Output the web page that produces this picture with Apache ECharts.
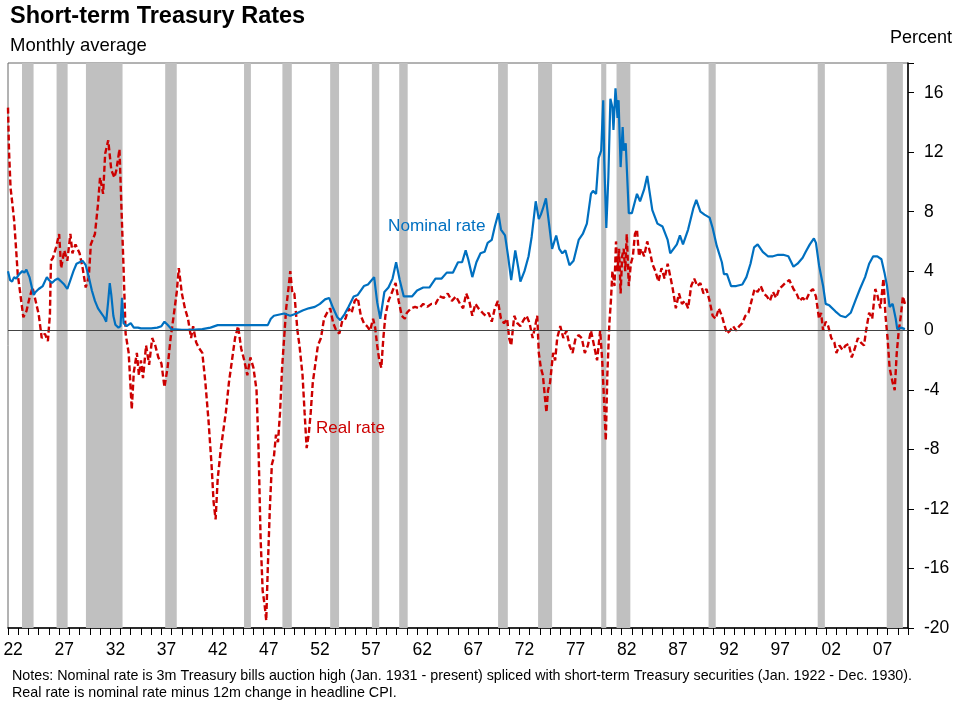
<!DOCTYPE html>
<html>
<head>
<meta charset="utf-8">
<script src="https://cdn.jsdelivr.net/npm/echarts@6/dist/echarts.min.js"></script>
<style>
html, body { margin: 0; padding: 0; background: #fff; }
#mainChart { width: 958px; height: 702px; }
</style>
</head>
<body>
<div id="mainChart"></div>
<script>
// year labels on the bottom axis (one category per year)
var yearCats = [];
for (var y = 1922; y <= 2009; y++) {
    yearCats.push(String(y).slice(2));
}
var yTicks = [-20, -16, -12, -8, -4, 0, 4, 8, 12, 16];

// recessions (start, end) in decimal years
var recStart = [1923.37, 1926.75, 1929.62, 1937.37, 1945.08, 1948.83, 1953.5, 1957.58, 1960.25, 1969.92, 1973.83, 1980.0, 1981.5, 1990.5, 2001.17, 2007.92];
var recEnd   = [1924.5, 1927.83, 1933.2, 1938.5, 1945.75, 1949.75, 1954.37, 1958.3, 1961.08, 1970.87, 1975.2, 1980.5, 1982.85, 1991.2, 2001.87, 2009.5];

// nominal rate
var nomDates = [1922.0,1922.2,1922.4,1922.6,1922.8,1923.1,1923.4,1923.6,1923.8,1924.1,1924.3,1924.5,1924.7,1925.0,1925.4,1925.8,1926.0,1926.3,1926.6,1926.9,
    1927.2,1927.5,1927.8,1928.1,1928.4,1928.7,1929.0,1929.3,1929.6,1929.9,1930.2,1930.5,1930.8,1931.1,1931.4,1931.6,1931.8,1931.95,1932.1,1932.3,
    1932.5,1932.8,1933.0,1933.15,1933.3,1933.6,1934.0,1934.3,1934.7,1935.0,1936.0,1936.6,1937.0,1937.3,1937.6,1938.0,1939.0,1940.0,1941.0,1941.8,
    1942.5,1947.4,1947.7,1948.0,1949.0,1949.6,1950.2,1950.8,1951.4,1952.0,1952.5,1953.0,1953.4,1953.8,1954.2,1954.5,1954.9,1955.3,1955.8,1956.2,
    1956.8,1957.2,1957.8,1958.1,1958.4,1958.8,1959.2,1959.6,1959.95,1960.3,1960.7,1961.0,1961.5,1962.0,1962.6,1963.2,1963.8,1964.4,1964.9,1965.5,
    1966.0,1966.4,1966.75,1967.0,1967.4,1967.8,1968.2,1968.6,1968.9,1969.3,1969.6,1969.95,1970.2,1970.6,1970.9,1971.2,1971.6,1971.9,1972.1,1972.5,
    1972.9,1973.2,1973.6,1973.9,1974.1,1974.3,1974.6,1974.9,1975.2,1975.6,1975.9,1976.2,1976.5,1976.9,1977.3,1977.8,1978.2,1978.6,1979.0,1979.2,
    1979.5,1979.75,1980.0,1980.2,1980.3,1980.5,1980.7,1980.9,1981.1,1981.2,1981.4,1981.6,1981.7,1981.9,1982.1,1982.2,1982.4,1982.7,1983.0,1983.5,
    1983.8,1984.2,1984.5,1985.0,1985.5,1986.0,1986.5,1986.75,1987.4,1987.7,1988.0,1988.5,1989.0,1989.3,1989.7,1990.1,1990.6,1990.9,1991.3,1991.8,
    1992.0,1992.3,1992.7,1993.2,1993.8,1994.2,1994.6,1994.95,1995.3,1995.8,1996.3,1996.8,1997.3,1997.8,1998.3,1998.8,1999.2,1999.7,2000.0,2000.4,
    2000.8,2001.0,2001.3,2001.7,2001.95,2002.3,2002.9,2003.4,2003.9,2004.4,2004.9,2005.3,2005.8,2006.2,2006.6,2007.0,2007.4,2007.7,2007.95,2008.2,
    2008.5,2008.8,2008.95,2009.3,2009.7];
var nomRates = [4.0,3.4,3.3,3.6,3.5,3.8,4.0,3.9,4.1,3.6,3.0,2.4,2.6,2.8,3.0,3.6,3.4,3.2,3.4,3.5,
    3.3,3.1,2.8,3.4,4.0,4.5,4.6,4.7,4.4,3.6,2.7,2.0,1.5,1.2,0.9,0.6,2.0,3.2,2.4,1.0,
    0.4,0.2,0.3,2.2,0.5,0.3,0.5,0.2,0.2,0.15,0.15,0.2,0.3,0.6,0.4,0.1,0.05,0.05,0.1,0.2,
    0.37,0.37,0.8,1.0,1.15,1.0,1.15,1.35,1.5,1.6,1.8,2.1,2.2,1.5,0.9,0.7,1.1,1.6,2.3,2.4,
    3.0,3.1,3.6,1.9,0.8,2.6,2.9,3.5,4.6,3.4,2.3,2.3,2.3,2.7,2.9,2.9,3.5,3.5,3.9,3.9,
    4.6,4.6,5.4,4.8,3.6,4.6,5.2,5.3,5.9,6.1,7.0,7.9,6.8,6.4,5.0,3.4,5.4,4.2,3.3,4.0,
    5.0,6.3,8.7,7.5,7.8,8.2,8.9,7.2,5.5,6.4,5.5,5.2,5.4,4.4,4.7,6.1,6.5,7.2,9.2,9.4,
    9.2,11.6,12.1,15.5,11.4,6.9,10.3,15.6,15.0,13.5,16.3,14.3,15.5,11.0,13.7,12.1,12.6,7.9,7.9,9.2,
    8.7,9.5,10.4,8.1,7.2,7.0,6.1,5.2,5.8,6.4,5.8,6.8,8.2,8.8,8.0,7.8,7.6,6.9,5.7,4.6,
    3.8,3.8,3.0,3.0,3.1,3.6,4.5,5.6,5.8,5.3,5.0,5.0,5.1,5.1,5.0,4.3,4.5,4.9,5.3,5.8,
    6.2,5.9,4.4,3.0,1.8,1.7,1.3,1.0,0.9,1.2,2.1,2.8,3.6,4.5,5.0,5.0,4.8,3.9,3.0,1.6,
    1.8,0.8,0.1,0.2,0.1];

// real rate
var realDates = [1922.0,1922.1,1922.25,1922.4,1922.6,1922.8,1922.95,1923.2,1923.5,1923.8,1924.1,1924.4,1924.7,1925.0,1925.3,1925.6,1925.9,1926.1,1926.2,1926.4,
    1926.7,1927.0,1927.2,1927.5,1927.8,1928.1,1928.3,1928.6,1929.0,1929.3,1929.6,1929.9,1930.1,1930.5,1930.8,1931.0,1931.3,1931.5,1931.8,1932.1,
    1932.4,1932.6,1932.9,1933.1,1933.3,1933.5,1933.8,1934.0,1934.1,1934.3,1934.6,1934.8,1935.0,1935.2,1935.5,1935.8,1936.1,1936.4,1936.7,1937.0,
    1937.3,1937.6,1937.9,1938.2,1938.5,1938.7,1939.0,1939.3,1939.6,1939.9,1940.1,1940.4,1940.7,1941.0,1941.3,1941.6,1941.9,1942.1,1942.3,1942.5,
    1942.8,1943.0,1943.3,1943.6,1943.9,1944.2,1944.5,1944.8,1945.1,1945.4,1945.7,1946.0,1946.3,1946.5,1946.7,1946.9,1947.1,1947.25,1947.4,1947.6,
    1947.8,1948.0,1948.2,1948.4,1948.6,1948.8,1949.0,1949.2,1949.45,1949.6,1949.8,1950.0,1950.3,1950.5,1950.8,1951.0,1951.2,1951.4,1951.6,1951.8,
    1952.0,1952.3,1952.6,1952.9,1953.2,1953.5,1953.8,1954.1,1954.4,1954.7,1955.0,1955.3,1955.6,1955.9,1956.2,1956.5,1956.8,1957.1,1957.4,1957.7,
    1957.9,1958.1,1958.3,1958.5,1958.7,1958.9,1959.2,1959.5,1959.9,1960.2,1960.5,1960.8,1961.0,1961.4,1961.8,1962.2,1962.6,1963.0,1963.4,1963.8,
    1964.2,1964.6,1965.0,1965.4,1965.8,1966.2,1966.5,1966.8,1967.1,1967.4,1967.7,1968.0,1968.4,1968.7,1969.0,1969.3,1969.6,1969.9,1970.2,1970.5,
    1970.8,1971.0,1971.2,1971.5,1971.8,1972.1,1972.4,1972.7,1973.0,1973.3,1973.6,1973.75,1973.9,1974.1,1974.3,1974.5,1974.65,1974.8,1975.0,1975.3,
    1975.5,1975.7,1976.0,1976.3,1976.6,1976.9,1977.2,1977.5,1977.8,1978.1,1978.4,1978.7,1979.0,1979.3,1979.6,1979.9,1980.1,1980.3,1980.45,1980.6,
    1980.8,1980.95,1981.1,1981.3,1981.45,1981.6,1981.75,1981.9,1982.05,1982.2,1982.35,1982.5,1982.7,1982.9,1983.1,1983.3,1983.5,1983.7,1983.9,1984.2,
    1984.5,1984.8,1985.0,1985.3,1985.6,1985.9,1986.2,1986.5,1986.8,1987.0,1987.3,1987.6,1987.9,1988.2,1988.5,1988.8,1989.1,1989.4,1989.7,1990.0,
    1990.3,1990.6,1990.9,1991.2,1991.5,1991.8,1992.0,1992.3,1992.6,1992.9,1993.2,1993.5,1993.8,1994.1,1994.4,1994.7,1995.0,1995.3,1995.6,1995.9,
    1996.2,1996.5,1996.8,1997.1,1997.4,1997.7,1998.0,1998.4,1998.8,1999.1,1999.4,1999.7,2000.0,2000.4,2000.7,2001.0,2001.3,2001.5,2001.7,2001.95,
    2002.2,2002.5,2002.8,2003.0,2003.3,2003.6,2003.9,2004.2,2004.5,2004.8,2005.1,2005.4,2005.7,2005.9,2006.2,2006.5,2006.8,2007.0,2007.3,2007.6,
    2007.8,2008.0,2008.2,2008.5,2008.7,2008.9,2009.1,2009.3,2009.5,2009.7];
var realRates = [15.0,12.1,9.6,8.7,7.4,5.4,3.8,2.5,0.9,1.3,2.2,2.9,2.0,1.1,-0.5,-0.2,-0.7,1.1,4.7,4.9,
    5.6,6.5,4.2,5.4,4.7,6.5,5.2,5.8,5.2,4.2,2.9,3.6,5.8,6.5,8.5,10.3,9.2,11.9,12.8,10.8,
    10.3,10.8,12.2,8.1,4.2,-0.2,-1.5,-4.0,-5.3,-2.8,-1.5,-3.0,-2.0,-3.2,-1.0,-2.3,-0.5,-1.0,-1.8,-2.2,
    -3.8,-2.5,-0.5,1.0,2.6,4.2,2.5,1.5,0.8,-0.5,0.3,-0.8,-1.2,-1.5,-3.5,-6.0,-9.0,-11.5,-12.7,-10.0,
    -8.0,-7.0,-5.5,-3.5,-2.0,-0.5,0.3,-1.2,-2.0,-3.0,-1.8,-2.5,-4.0,-8.0,-14.0,-17.5,-18.5,-19.5,-16.0,-12.0,
    -9.0,-8.5,-7.0,-7.5,-5.5,-2.5,-0.5,1.5,3.0,4.0,2.5,2.5,0.0,-1.0,-3.0,-5.5,-7.9,-7.0,-5.5,-3.5,
    -2.5,-1.0,-0.5,0.8,1.2,1.5,0.5,0.0,-0.2,0.7,0.8,1.5,1.2,2.0,2.2,1.0,0.5,0.3,0.0,0.8,
    0.2,-1.0,-2.0,-2.5,-0.5,1.0,2.0,2.5,3.2,2.0,1.0,0.8,1.2,1.5,1.6,1.5,1.8,1.6,1.8,1.8,
    2.3,2.2,2.5,2.0,2.3,1.8,1.5,2.5,2.0,1.0,1.8,1.5,1.2,1.0,1.2,0.6,1.5,2.0,0.8,0.5,
    0.8,-0.5,-1.0,1.0,0.5,0.3,0.7,1.0,0.5,-0.5,0.5,1.0,-1.5,-2.5,-3.0,-4.5,-5.5,-4.0,-3.5,-1.5,
    -2.0,-0.5,0.3,-0.5,0.0,-1.0,-1.5,-0.5,-0.3,-0.5,-1.5,-1.0,0.0,-1.0,-2.0,0.0,-2.0,-5.0,-7.4,-3.0,
    0.5,2.0,4.0,3.0,6.0,4.0,5.5,2.5,5.0,5.5,4.0,6.5,3.0,4.5,5.0,6.5,6.8,5.0,5.5,5.0,
    6.0,5.2,4.5,4.0,3.3,4.2,3.5,4.5,3.5,2.8,1.5,2.5,1.8,2.0,1.5,3.0,3.5,3.0,3.2,2.5,
    2.8,2.0,1.0,0.8,1.5,1.0,0.5,-0.2,0.0,0.3,0.0,0.3,0.5,1.0,1.2,2.0,2.8,2.6,3.0,2.5,
    2.3,2.0,2.6,2.2,2.8,3.0,3.2,3.4,2.8,2.5,2.0,2.2,2.0,2.6,2.8,2.3,0.8,1.2,0.0,0.6,
    0.3,-0.5,-0.8,-1.5,-1.0,-1.3,-1.0,-0.9,-1.8,-1.2,-0.5,-0.8,-1.0,0.0,1.2,0.8,2.8,2.4,1.5,3.5,
    1.0,-0.5,-2.5,-3.5,-4.0,-1.5,0.0,1.0,2.3,1.8];

function pairs(xs, ys) {
    var out = [];
    for (var i = 0; i < xs.length; i++) {
        out.push([xs[i], ys[i]]);
    }
    return out;
}

var bands = [];
for (var b = 0; b < recStart.length; b++) {
    bands.push([{xAxis: recStart[b]}, {xAxis: recEnd[b]}]);
}

var font = 'Liberation Sans, Arial, sans-serif';

var option = {
    animation: false,
    backgroundColor: '#fff',
    grid: {
        left: 8, right: 50, top: 63, bottom: 74,
        show: true, borderColor: '#666', borderWidth: 1, backgroundColor: 'transparent'
    },
    xAxis: [
        {
            type: 'category',
            data: yearCats,
            boundaryGap: true,
            axisLine: {onZero: false, lineStyle: {color: '#000', width: 1.5}},
            axisTick: {show: true, interval: 0, length: 7, lineStyle: {color: '#000'}},
            axisLabel: {interval: 4, margin: 13, fontSize: 17.5, color: '#000', fontFamily: font},
            splitLine: {show: false}
        },
        {
            type: 'value',
            min: 1922,
            max: 2010,
            show: false,
            splitLine: {show: false}
        }
    ],
    yAxis: {
        type: 'value',
        position: 'right',
        min: -20,
        max: 18,
        interval: 4,
        axisLine: {show: true, lineStyle: {color: '#000', width: 1.5}},
        axisTick: {show: true, length: 6, lineStyle: {color: '#000'}},
        axisLabel: {
            margin: 16, fontSize: 17.5, color: '#000', fontFamily: font,
            formatter: function (v) { return yTicks.indexOf(v) >= 0 ? String(v) : ''; }
        },
        splitLine: {show: false}
    },
    graphic: [
        {type: 'text', left: 10, top: 5, z: 100, style: {text: 'Short-term Treasury Rates', font: 'bold 23.5px ' + font, fill: '#000'}},
        {type: 'text', left: 10, top: 36, z: 100, style: {text: 'Monthly average', font: '18.5px ' + font, fill: '#000'}},
        {type: 'text', right: 6, top: 29, z: 100, style: {text: 'Percent', font: '18px ' + font, fill: '#000'}},
        {type: 'text', left: 388, top: 218, z: 100, style: {text: 'Nominal rate', font: '17.2px ' + font, fill: '#0070c0'}},
        {type: 'text', left: 316, top: 420, z: 100, style: {text: 'Real rate', font: '17px ' + font, fill: '#cc0000'}},
        {type: 'text', left: 12, top: 668, z: 100, style: {text: 'Notes: Nominal rate is 3m Treasury bills auction high (Jan. 1931 - present) spliced with short-term Treasury securities (Jan. 1922 - Dec. 1930).\nReal rate is nominal rate minus 12m change in headline CPI.', font: '14.3px ' + font, fill: '#000', lineHeight: 17}}
    ],
    series: [
        {
            name: 'recessions',
            type: 'line',
            xAxisIndex: 1,
            data: [],
            z: 1,
            silent: true,
            markArea: {silent: true, itemStyle: {color: '#c0c0c0'}, data: bands}
        },
        {
            name: 'zero',
            type: 'line',
            xAxisIndex: 1,
            data: [],
            z: 2,
            silent: true,
            markLine: {
                silent: true, symbol: 'none', label: {show: false},
                lineStyle: {color: '#444', width: 1.2, type: 'solid'},
                data: [{yAxis: 0}]
            }
        },
        {
            name: 'Real rate',
            type: 'line',
            xAxisIndex: 1,
            data: pairs(realDates, realRates),
            showSymbol: false,
            z: 3,
            lineStyle: {color: '#cc0000', width: 2.4, type: [6, 3]}
        },
        {
            name: 'Nominal rate',
            type: 'line',
            xAxisIndex: 1,
            data: pairs(nomDates, nomRates),
            showSymbol: false,
            z: 4,
            lineStyle: {color: '#0070c0', width: 2.2}
        }
    ]
};

var chart = echarts.init(document.getElementById('mainChart'));
chart.setOption(option);
</script>
</body>
</html>
